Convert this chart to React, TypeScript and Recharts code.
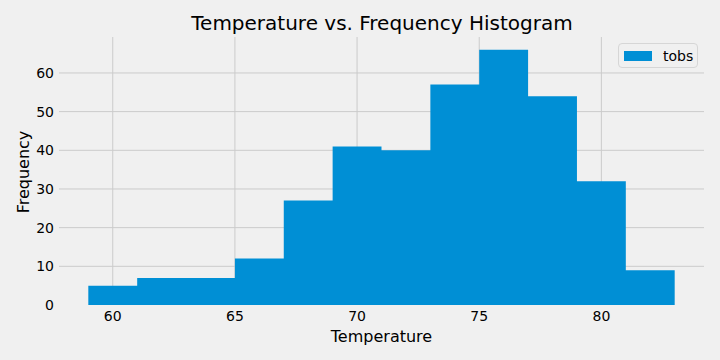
import React from 'react';
import { ComposedChart, Area, XAxis, YAxis, CartesianGrid, Legend } from 'recharts';

const binEdges = [59, 61, 63, 65, 67, 69, 71, 73, 75, 77, 79, 81, 83];
const counts = [5, 7, 7, 12, 27, 41, 40, 57, 66, 54, 32, 9];
const xTicks = [60, 65, 70, 75, 80];
const yTicks = [0, 10, 20, 30, 40, 50, 60];
const gridY = [10, 20, 30, 40, 50, 60];

const data = binEdges.map((e, i) => ({ temp: e, tobs: counts[Math.min(i, counts.length - 1)] }));

const FONT = '"DejaVu Sans", sans-serif';
const BLUE = '#008fd5';

const LegendBox = () => (
  <div
    style={{
      width: 80,
      height: 25,
      boxSizing: 'border-box',
      border: '1px solid #d6d6d6',
      borderRadius: 4,
      background: '#f0f0f0',
      display: 'flex',
      alignItems: 'center',
      fontFamily: FONT,
      fontSize: 14,
      color: '#000',
    }}
  >
    <span style={{ display: 'inline-block', width: 28, height: 10, background: BLUE, marginLeft: 5, marginRight: 11 }} />
    <span>tobs</span>
  </div>
);

export default function App() {
  return (
    <div style={{ position: 'absolute', left: 0, top: 0, width: 720, height: 360, background: '#f0f0f0' }}>
      <ComposedChart
        width={720}
        height={360}
        data={data}
        margin={{ top: 37, right: 16, bottom: 0, left: 9 }}
        style={{ fontFamily: FONT }}
      >
        <text x={382} y={30} textAnchor="middle" fontSize={20} fill="#000" fontFamily={FONT}>
          Temperature vs. Frequency Histogram
        </text>
        <text
          x={29}
          y={172}
          textAnchor="middle"
          fontSize={16}
          fill="#000"
          fontFamily={FONT}
          transform="rotate(-90, 29, 172)"
        >
          Frequency
        </text>
        <CartesianGrid stroke="#cbcbcb" strokeWidth={1} horizontalValues={gridY} verticalValues={xTicks} />
        <XAxis
          dataKey="temp"
          type="number"
          domain={[57.8, 84.2]}
          ticks={xTicks}
          axisLine={false}
          tickLine={false}
          tickSize={0}
          tickMargin={6}
          height={55}
          tick={{ fontSize: 14, fill: '#000', fontFamily: FONT }}
          label={{ value: 'Temperature', position: 'insideBottom', offset: 18, fontSize: 16, fill: '#000', fontFamily: FONT }}
        />
        <YAxis
          type="number"
          domain={[0, 69.3]}
          ticks={yTicks}
          axisLine={false}
          tickLine={false}
          tickSize={0}
          tickMargin={5}
          width={50}
          tick={{ fontSize: 14, fill: '#000', fontFamily: FONT }}
        />
        <Legend
          layout="horizontal"
          verticalAlign="middle"
          align="center"
          content={() => <LegendBox />}
          wrapperStyle={{ position: 'absolute', top: 43, left: 618, width: 80, height: 25 }}
        />
        <Area
          type="stepAfter"
          dataKey="tobs"
          stroke="none"
          fill={BLUE}
          fillOpacity={1}
          baseValue={0}
          isAnimationActive={false}
          dot={false}
          activeDot={false}
        />
      </ComposedChart>
    </div>
  );
}
